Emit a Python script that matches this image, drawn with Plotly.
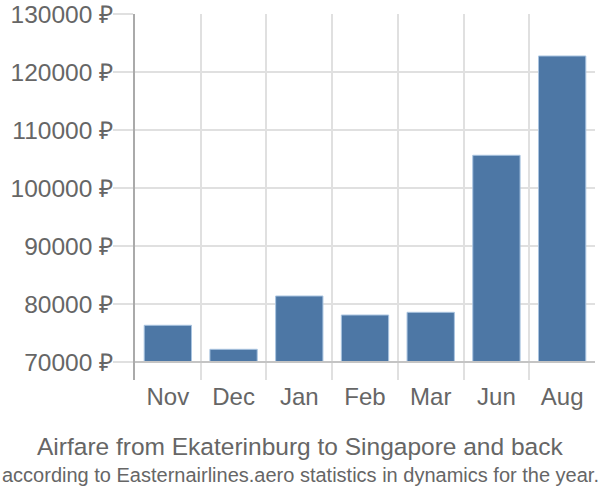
import plotly.graph_objects as go

months = ["Nov", "Dec", "Jan", "Feb", "Mar", "Jun", "Aug"]
prices = [76330, 72190, 81380, 78100, 78570, 105640, 122760]
y_ticks = [70000, 80000, 90000, 100000, 110000, 120000, 130000]
y_tick_labels = [f"{v} ₽" for v in y_ticks]
base_value = 70000

title = "Airfare from Ekaterinburg to Singapore and back"
subtitle = "according to Easternairlines.aero statistics in dynamics for the year."

FONT = "Liberation Sans, Arial, sans-serif"
GRAY = "#666666"
GRID = "#e0e0e0"

L, R = 135, 5
plot_w = 600 - L - R
cx = (300 - L) / plot_w

fig = go.Figure()
fig.add_trace(go.Bar(
    x=months,
    y=[p - base_value for p in prices],
    base=base_value,
    marker=dict(color="#4d77a5", line=dict(color="#a9c4e0", width=1)),
    width=0.72,
    hoverinfo="skip",
))

fig.add_shape(type="line", xref="paper", yref="y", x0=0, x1=1, y0=base_value, y1=base_value,
              line=dict(color="#c4c4c4", width=2), layer="above")

fig.update_layout(
    width=600, height=500,
    margin=dict(l=L, r=R, t=14, b=120, autoexpand=False),
    plot_bgcolor="white", paper_bgcolor="white",
    showlegend=False,
    font=dict(family=FONT, color=GRAY, size=24),
    xaxis=dict(
        type="category",
        tickson="boundaries",
        showgrid=True, gridcolor=GRID, gridwidth=1.5,
        ticks="", tickfont=dict(size=24, color=GRAY),
        showline=False, automargin=False,
    ),
    yaxis=dict(
        range=[66897, 130000],
        tickvals=y_ticks, ticktext=y_tick_labels,
        showgrid=True, gridcolor=GRID, gridwidth=1.5,
        ticks="outside", ticklen=20, tickcolor=GRID, tickwidth=1.5,
        ticklabelstandoff=-5,
        showline=True, linecolor="#aaaaaa", linewidth=2,
        tickfont=dict(size=24.5, color=GRAY),
        zeroline=False, automargin=False,
    ),
    annotations=[
        dict(text=title, xref="paper", yref="paper", x=cx, y=0, xanchor="center", yanchor="middle",
             yshift=-(446 - 380), showarrow=False,
             font=dict(size=24.5, color=GRAY, family=FONT)),
        dict(text=subtitle, xref="paper", yref="paper", x=cx, y=0, xanchor="center", yanchor="middle",
             yshift=-(475 - 380), showarrow=False,
             font=dict(size=20, color=GRAY, family=FONT)),
    ],
)
fig.write_html("out.html")
